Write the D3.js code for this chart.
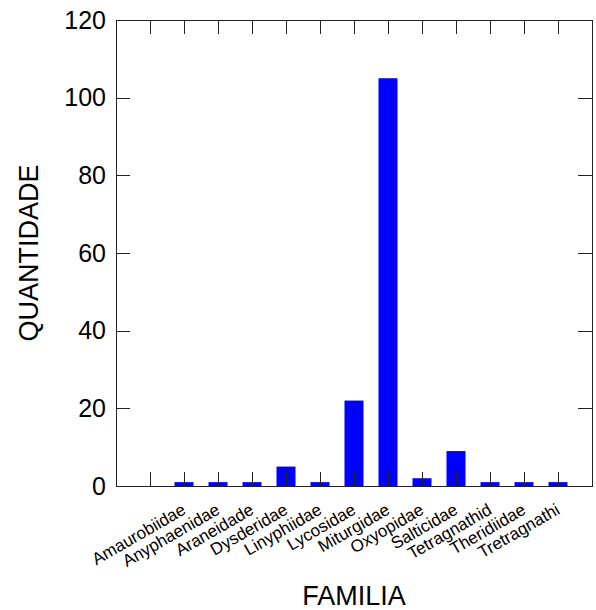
<!DOCTYPE html>
<html lang="pt">
<head>
<meta charset="utf-8">
<title>Familias</title>
<script src="https://cdn.jsdelivr.net/npm/d3@7/dist/d3.min.js"></script>
<style>
    body { margin: 0; background: #fff; }
    svg { font-family: "Liberation Sans", Arial, sans-serif; }
    .axis path,
    .axis line {
        fill: none;
        stroke: #222;
        stroke-width: 1px;
        shape-rendering: crispEdges;
    }
    .axis text { font-size: 25px; fill: #000; }
</style>
</head>
<body>
<div id="chart"></div>
<script>
// data
var familias = ["Amaurobiidae", "Anyphaenidae", "Araneidade", "Dysderidae",
    "Linyphiidae", "Lycosidae", "Miturgidae", "Oxyopidae", "Salticidae",
    "Tetragnathid", "Theridiidae", "Tretragnathi"];
var quantidade = [1, 1, 1, 5, 1, 22, 105, 2, 9, 1, 1, 1];
var yTicks = [0, 20, 40, 60, 80, 100, 120];

var width = 596, height = 610;
var padL = 116, padR = 592, padT = 20, padB = 486;
var tick = 14, barW = 19;

var svg = d3.select("#chart").append("svg")
    .attr("width", width)
    .attr("height", height);

// first slot on the axis is empty in the original
var slots = [" "].concat(familias);

var x = d3.scalePoint()
    .domain(slots)
    .range([padL, padR])
    .padding(1);

var y = d3.scaleLinear()
    .domain([0, 120])
    .range([padB, padT]);

var data = familias.map(function(f, i) {
    return {familia: f, n: quantidade[i]};
});

svg.selectAll("rect.bar")
    .data(data)
    .enter().append("rect")
    .attr("class", "bar")
    .attr("x", function(d) { return x(d.familia) - barW / 2; })
    .attr("y", function(d) { return y(d.n); })
    .attr("width", barW)
    .attr("height", function(d) { return y(0) - y(d.n); })
    .style("fill", "#0000ff");

// axes, ticks pointing inwards
svg.append("g")
    .attr("class", "axis")
    .attr("transform", "translate(0," + padB + ")")
    .call(d3.axisBottom(x).tickSizeInner(-tick).tickSizeOuter(0).tickFormat(""));

svg.append("g")
    .attr("class", "axis")
    .attr("transform", "translate(0," + padT + ")")
    .call(d3.axisTop(x).tickSizeInner(-tick).tickSizeOuter(0).tickFormat(""));

svg.append("g")
    .attr("class", "axis")
    .attr("transform", "translate(" + padL + ",0)")
    .call(d3.axisLeft(y).tickValues(yTicks).tickSizeInner(-tick).tickSizeOuter(0))
    .selectAll("text")
    .attr("x", -10);

svg.append("g")
    .attr("class", "axis")
    .attr("transform", "translate(" + padR + ",0)")
    .call(d3.axisRight(y).tickValues(yTicks).tickSizeInner(-tick).tickSizeOuter(0).tickFormat(""));

// rotated category labels
svg.selectAll("text.cat")
    .data(familias)
    .enter().append("text")
    .attr("class", "cat")
    .attr("x", function(d) { return x(d) + 3; })
    .attr("y", 513)
    .attr("text-anchor", "end")
    .attr("transform", function(d) { return "rotate(-30," + (x(d) + 3) + ",513)"; })
    .style("font-size", "17px")
    .text(function(d) { return d; });

// axis titles
svg.append("text")
    .attr("x", (padL + padR) / 2)
    .attr("y", 605)
    .attr("text-anchor", "middle")
    .style("font-size", "27px")
    .text("FAMILIA");

svg.append("text")
    .attr("transform", "translate(38," + ((padT + padB) / 2) + ") rotate(-90)")
    .attr("text-anchor", "middle")
    .style("font-size", "27px")
    .text("QUANTIDADE");
</script>
</body>
</html>
